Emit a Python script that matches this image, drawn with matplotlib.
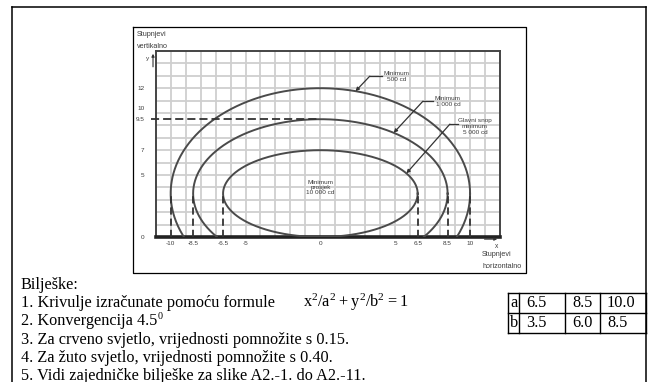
import numpy as np
import matplotlib
matplotlib.use('Agg')
import matplotlib.pyplot as plt
import matplotlib.transforms as mtrans
from matplotlib.lines import Line2D

plt.rcParams['font.family'] = ['Liberation Serif', 'DejaVu Serif']
plt.rcParams['axes.unicode_minus'] = False

# Semi-axes of the isocandela curves (inner to outer), centred on y = 3.5
a_vals = [6.5, 8.5, 10.0]
b_vals = [3.5, 6.0, 8.5]
y_center = 3.5

xtick_vals = [-10, -8.5, -6.5, -5, 0, 5, 6.5, 8.5, 10]
xtick_labels = ['-10', '-8.5', '-6.5', '-5', '0', '5', '6.5', '8.5', '10']
ytick_vals = [0, 5, 7, 9.5, 10, 12]
ytick_labels = ['0', '5', '7', '9.5', '10', '12']

curve_labels = ['Glavni snop\nminimum\n5 000 cd', 'Minimum\n1 000 cd', 'Minimum\n500 cd']
center_label = 'Minimum\nprosjek\n10 000 cd'

notes = [
    'Bilješke:',
    '1. Krivulje izračunate pomoću formule',
    '2. Konvergencija 4.5',
    '3. Za crveno svjetlo, vrijednosti pomnožite s 0.15.',
    '4. Za žuto svjetlo, vrijednosti pomnožite s 0.40.',
    '5. Vidi zajedničke bilješke za slike A2.-1. do A2.-11.',
]
formula = r'$\mathregular{x^2/a^2 + y^2/b^2 = 1}$'

W, H = 649, 382
SANS = 'Liberation Sans'
INK = '#3c3c3c'
NOTE_SIZE = 11.7


def fx(x):
    return x / W


def fy(y):
    return 1 - y / H


def ellipse_y(x, a, b):
    return y_center + b * np.sqrt(1 - (x / a) ** 2)


fig = plt.figure(figsize=(W / 100, H / 100), dpi=100)

# page frame and chart frame
for seg in [((12.3, 646), (7.3, 7.3)), ((12.3, 12.3), (7.3, 400)), ((646, 646), (7.3, 400))]:
    fig.add_artist(Line2D([fx(v) for v in seg[0]], [fy(v) for v in seg[1]], color='black', lw=1.1))
bx0, by0, bx1, by1 = 132.7, 27.3, 526, 273.3
fig.add_artist(Line2D([fx(bx0), fx(bx1), fx(bx1), fx(bx0), fx(bx0)],
                      [fy(by0), fy(by0), fy(by1), fy(by1), fy(by0)], color='black', lw=0.9))

ax = fig.add_axes([fx(155.7), fy(237), (500 - 155.7) / W, (237 - 51) / H])
ax.set_xlim(-11, 12)
ax.set_ylim(0, 15)

# grid, one line per degree
ax.vlines(np.arange(-10, 12), 0, 15, color='#cfcfcf', lw=1.3, zorder=0)
ax.hlines(np.arange(1, 15), -11, 12, color='#cfcfcf', lw=1.3, zorder=0)

for side in ['top', 'left', 'right']:
    ax.spines[side].set_color('#444444')
    ax.spines[side].set_linewidth(1.4)
ax.spines['bottom'].set_color('#222222')
ax.spines['bottom'].set_linewidth(2.6)

# isocandela curves, clipped at the horizon
for a, b in zip(a_vals, b_vals):
    t = np.linspace(0, 2 * np.pi, 721)
    xs = a * np.cos(t)
    ys = y_center + b * np.sin(t)
    ys = np.where(ys >= 0, ys, np.nan)
    ax.plot(xs, ys, color='#4a4a4a', lw=1.4, zorder=3)
    for s in (-1, 1):
        ax.plot([s * a, s * a], [0, y_center], color='#333333', lw=1.3,
                dashes=(4, 2.2), zorder=3)

# top of the 1 000 cd curve carried back to the vertical axis
y_top_mid = y_center + b_vals[1]
ax.plot([-11.3, 0], [y_top_mid, y_top_mid], color='#333333', lw=1.3,
        dashes=(4.5, 2.2), clip_on=False, zorder=3)

ax.set_xticks(xtick_vals)
ax.set_xticklabels(xtick_labels)
ax.set_yticks(ytick_vals)
ax.set_yticklabels(ytick_labels)
ax.tick_params(axis='x', length=0, pad=3, labelsize=4.6, labelcolor=INK)
ax.tick_params(axis='y', length=0, pad=8, labelsize=4.6, labelcolor=INK)
for lab in ax.get_xticklabels() + ax.get_yticklabels():
    lab.set_family(SANS)
# lift the "10" label clear of "9.5"
lab10 = ax.get_yticklabels()[ytick_labels.index('10')]
lab10.set_transform(lab10.get_transform() +
                    mtrans.ScaledTranslation(0, 3.5 / 72, fig.dpi_scale_trans))

# axis arrows
ax.annotate('', xy=(-11.18, 15.0), xytext=(-11.18, 13.5),
            arrowprops=dict(arrowstyle='-|>', lw=0.8, color='#333333', mutation_scale=4),
            annotation_clip=False)
ax.annotate('', xy=(12.0, -0.17), xytext=(10.78, -0.17),
            arrowprops=dict(arrowstyle='-|>', lw=0.8, color='#333333', mutation_scale=4),
            annotation_clip=False)
ax.text(-11.55, 14.4, 'y', family=SANS, fontsize=4.6, color=INK, ha='center', va='center',
        clip_on=False)
ax.text(11.78, -0.78, 'x', family=SANS, fontsize=4.8, color=INK, ha='center', va='center',
        clip_on=False)

fig.text(fx(136.5), fy(35), 'Stupnjevi', family=SANS, fontsize=5.2, color=INK, va='center')
fig.text(fx(136.5), fy(46.5), 'vertikalno', family=SANS, fontsize=5.2, color=INK, va='center')
fig.text(fx(482), fy(255), 'Stupnjevi', family=SANS, fontsize=5.2, color=INK, va='center')
fig.text(fx(482), fy(266.7), 'horizontalno', family=SANS, fontsize=5.2, color=INK, va='center')

# callouts: text centre, leader start, knee, leader height, target x on the curve
callouts = [
    ((10.33, 8.9), 9.2, 8.65, 9.1, 5.75),
    ((8.52, 10.93), 7.5, 6.85, 10.95, 4.9),
    ((5.1, 12.93), 4.15, 3.3, 12.97, 2.35),
]
for i, (pos, x_start, x_knee, y_lead, x_tip) in enumerate(callouts):
    ax.text(pos[0], pos[1], curve_labels[i], family=SANS, fontsize=4.6, color=INK,
            ha='center', va='center', linespacing=1.3, zorder=5)
    ax.plot([x_start, x_knee], [y_lead, y_lead], color='#333333', lw=0.9, zorder=4)
    ax.annotate('', xy=(x_tip, ellipse_y(x_tip, a_vals[i], b_vals[i])), xytext=(x_knee, y_lead),
                arrowprops=dict(arrowstyle='-|>', lw=0.9, color='#333333', mutation_scale=5,
                                shrinkA=0, shrinkB=0), zorder=4)
ax.text(0, 4.0, center_label, family=SANS, fontsize=4.6, color=INK, ha='center', va='center',
        linespacing=1.05, zorder=5)

# notes below the chart
base0, step = 288.7, 18.3
note_texts = []
for i, line in enumerate(notes):
    note_texts.append(fig.text(fx(20.7), fy(base0 + i * step), line, fontsize=NOTE_SIZE,
                               va='baseline'))
fig.text(fx(303), fy(base0 + step), formula, fontsize=NOTE_SIZE, va='baseline')

# degree superscript after "4.5"
renderer = fig.canvas.get_renderer()
ext = note_texts[2].get_window_extent(renderer)
fig.text(ext.x1 / W + 0.5 / W, fy(base0 + 2 * step - 6.5), '0', fontsize=NOTE_SIZE * 0.62,
         va='baseline')

# table of semi-axes
tx = [508.3, 519.3, 565, 600, 645.5]
ty = [293.3, 313.3, 332.7]
for x in tx:
    fig.add_artist(Line2D([fx(x), fx(x)], [fy(ty[0]), fy(ty[-1])], color='black', lw=1.0))
for y in ty:
    fig.add_artist(Line2D([fx(tx[0]), fx(tx[-1])], [fy(y), fy(y)], color='black', lw=1.0))
rows = [('a', a_vals), ('b', b_vals)]
row_base = [307.3, 326.7]
for (name, vals), yb in zip(rows, row_base):
    fig.text(fx((tx[0] + tx[1]) / 2), fy(yb), name, fontsize=NOTE_SIZE, va='baseline',
             ha='center')
    for x0, v in zip(tx[1:4], vals):
        fig.text(fx(x0 + 7), fy(yb), f'{v:.1f}', fontsize=NOTE_SIZE, va='baseline')

fig.savefig('out.png', dpi=100)
